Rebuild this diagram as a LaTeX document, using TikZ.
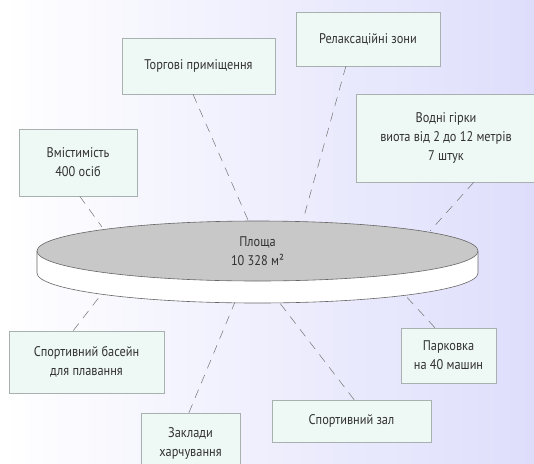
\documentclass[tikz,border=0pt]{standalone}
\usepackage{fontspec}
\setmainfont{PT Sans}[FakeStretch=0.88]
\usetikzlibrary{shadings}
\definecolor{bgright}{RGB}{222,222,252}
\definecolor{boxfill}{RGB}{238,248,245}
\definecolor{boxline}{RGB}{168,176,176}
\definecolor{disc}{RGB}{200,200,200}
\definecolor{ink}{RGB}{50,50,50}

\begin{document}
\begin{tikzpicture}[x=1pt, y=-1pt,
  box/.style={draw=boxline, fill=boxfill, line width=0.6pt, align=center, text=ink,
    font=\fontsize{14}{19}\selectfont, inner sep=0pt},
  link/.style={draw=gray!90!black, line width=0.5pt, dash pattern=on 9pt off 7pt}]
  \useasboundingbox (0,0) rectangle (534,463);
  \clip (0,0) rectangle (534,463);
  \shade[left color=white, right color=bgright] (0,0) rectangle (534,463);

  \draw[draw=gray!80!black, fill=white, line width=0.6pt] (37,251) -- (37,273)
    arc [start angle=180, end angle=0, x radius=220.5, y radius=30] -- (478,251);
  \draw[draw=gray!80!black, fill=disc, line width=0.6pt] (257.5,251) ellipse [x radius=220.5, y radius=30];
  \node[align=center, text=ink, font=\fontsize{14}{19}\selectfont] (plosha) at (257.5,251) {Площа\\10 328 м²};

  \node[box, minimum width=118pt, minimum height=67pt] (vmist) at (78,162.5) {Вмістимість\\400 осіб};
  \node[box, minimum width=153pt, minimum height=56pt] (torg) at (198.5,66) {Торгові приміщення};
  \node[box, minimum width=144pt, minimum height=54pt] (relax) at (368,39) {Релаксаційні зони};
  \node[box, minimum width=180pt, minimum height=88pt] (vodni) at (446,138) {Водні гірки\\виота від 2 до 12 метрів\\7 штук};
  \node[box, minimum width=155pt, minimum height=62pt] (basein) at (86.5,362) {Спортивний басейн\\для плавання};
  \node[box, minimum width=99pt, minimum height=60pt] (zaklady) at (190.5,443) {Заклади\\харчування};
  \node[box, minimum width=159pt, minimum height=42pt] (zal) at (351.5,421) {Спортивний зал};
  \node[box, minimum width=95pt, minimum height=55pt] (park) at (448.5,355.5) {Парковка\\на 40 машин};

  \coordinate (e1) at (102,227);
  \coordinate (e2) at (248,220);
  \coordinate (e3) at (303,220);
  \coordinate (e4) at (430,231);
  \coordinate (e5) at (100,296);
  \coordinate (e6) at (235,302);
  \coordinate (e7) at (279,302);
  \coordinate (e8) at (403,293);

  \draw[link] (vmist.-87) -- (e1);
  \draw[link] (torg.-101) -- (e2);
  \draw[link] (relax.-129) -- (e3);
  \draw[link] (vodni.-58.5) -- (e4);
  \draw[link] (basein.113.5) -- (e5);
  \draw[link] (zaklady.93) -- (e6);
  \draw[link] (zal.83) -- (e7);
  \draw[link] (park.116) -- (e8);
\end{tikzpicture}
\end{document}
